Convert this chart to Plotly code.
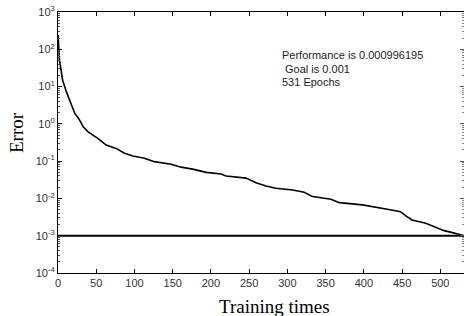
import plotly.graph_objects as go

epochs = [0, 1, 2, 4, 6, 11, 15, 20, 22, 27, 33, 39, 52, 63, 76, 87, 98, 113, 126,
          148, 161, 176, 194, 213, 220, 246, 259, 272, 285, 307, 322, 333, 350, 357,
          368, 398, 429, 448, 455, 463, 481, 494, 505, 516, 531]
errors = [240, 56, 50, 28, 15, 7.2, 4.4, 2.3, 1.9, 1.4, 0.84, 0.62, 0.41, 0.27, 0.22,
          0.163, 0.138, 0.12, 0.097, 0.083, 0.069, 0.061, 0.05, 0.045, 0.04, 0.035,
          0.0265, 0.0216, 0.0188, 0.0169, 0.0147, 0.0112, 0.0101, 0.0095, 0.0077,
          0.0067, 0.0052, 0.0044, 0.0034, 0.00265, 0.00216, 0.00165, 0.00137,
          0.00121, 0.000996195]
goal_x = [0, 531]
goal_y = [0.001, 0.001]
x_ticks = [0, 50, 100, 150, 200, 250, 300, 350, 400, 450, 500]
y_exponents = [-4, -3, -2, -1, 0, 1, 2, 3]
info_lines = ["Performance is 0.000996195", "\u00a0Goal is 0.001", "531 Epochs"]

y_major = [10.0 ** e for e in y_exponents]
y_labels = ["10<sup>%d</sup>" % e for e in y_exponents]
y_minor = [m * 10.0 ** e for e in y_exponents[:-1] for m in range(2, 10)]

fig = go.Figure()
fig.add_trace(go.Scatter(x=goal_x, y=goal_y, mode="lines",
                         line=dict(color="black", width=2), showlegend=False))
fig.add_trace(go.Scatter(x=epochs, y=errors, mode="lines",
                         line=dict(color="black", width=1.6), showlegend=False))
for ax in ["y2", "y3", "y4"]:
    fig.add_trace(go.Scatter(x=[0], y=[1], yaxis=ax, mode="markers",
                             marker=dict(opacity=0), showlegend=False, hoverinfo="skip"))

tick_font = dict(family="Liberation Sans, Arial", size=11, color="#333333")
common = dict(type="log", range=[-4, 3], showgrid=False, zeroline=False, automargin=False)
fig.update_layout(
    width=464, height=316,
    margin=dict(l=58, r=0, t=12, b=43),
    paper_bgcolor="white", plot_bgcolor="white",
    xaxis=dict(range=[0, 531], tickvals=x_ticks, ticks="inside", ticklen=4,
               tickcolor="black", showline=True, linecolor="black", linewidth=1,
               mirror="ticks", showgrid=False, zeroline=False, tickfont=tick_font,
               automargin=False),
    yaxis=dict(**common, tickvals=y_major, ticktext=y_labels,
               ticks="inside", ticklen=4, tickcolor="black", showline=True,
               linecolor="black", linewidth=1, tickfont=tick_font),
    yaxis2=dict(**common, overlaying="y", side="left", tickvals=y_minor,
                ticks="inside", ticklen=2, tickcolor="#555555",
                showticklabels=False, showline=False),
    yaxis3=dict(**common, overlaying="y", side="right", tickvals=y_major,
                ticks="inside", ticklen=4, tickcolor="#555555",
                showticklabels=False, showline=False),
    yaxis4=dict(**common, overlaying="y", side="right", tickvals=y_minor,
                ticks="inside", ticklen=2, tickcolor="#888888",
                showticklabels=False, showline=False),
)

for line, ypx in zip(info_lines, [55, 69, 82]):
    fig.add_annotation(text=line, xref="paper", yref="paper",
                       x=(280 - 58) / 406, y=(273 - ypx) / 261,
                       xanchor="left", yanchor="middle", showarrow=False,
                       font=dict(family="Liberation Sans, Arial", size=11, color="#222222"))

fig.add_annotation(text="Training times", xref="paper", yref="paper",
                   x=(274 - 58) / 406, y=(273 - 306) / 261, xanchor="center",
                   yanchor="middle", showarrow=False,
                   font=dict(family="Liberation Serif, Times New Roman", size=19, color="black"))
fig.add_annotation(text="Error", xref="paper", yref="paper",
                   x=(16 - 58) / 406, y=(273 - 133) / 261, xanchor="center",
                   yanchor="middle", showarrow=False, textangle=-90,
                   font=dict(family="Liberation Serif, Times New Roman", size=19, color="black"))

fig.write_html("out.html", config={"displayModeBar": False},
               post_script="document.body.style.margin='0';document.body.style.overflow='hidden';")
